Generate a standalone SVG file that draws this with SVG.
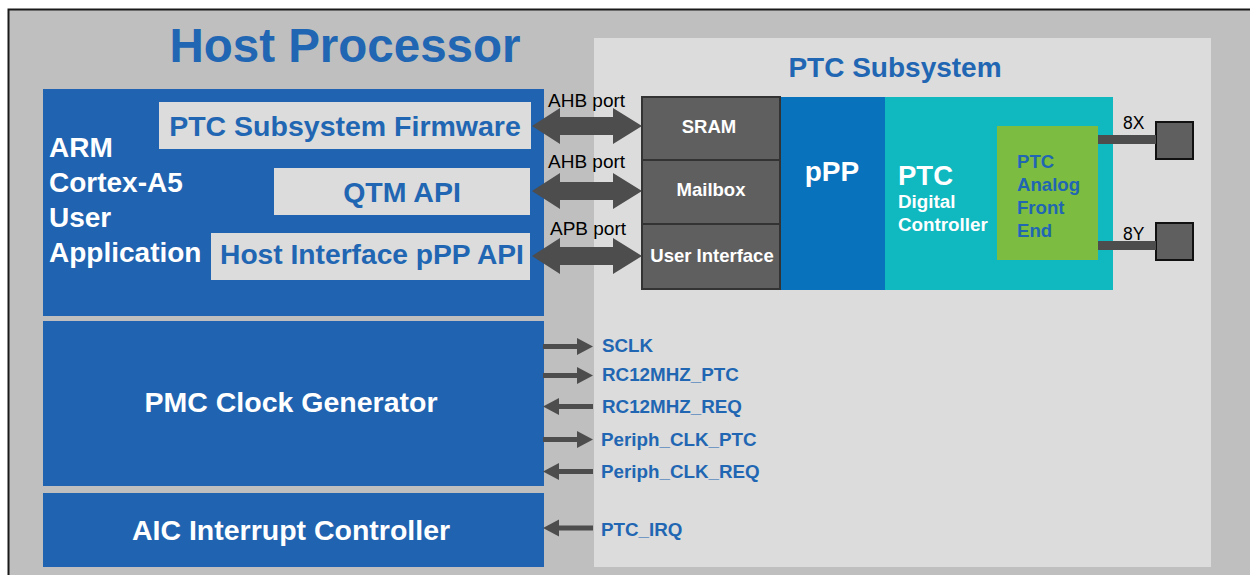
<svg xmlns="http://www.w3.org/2000/svg" width="1250" height="575" viewBox="0 0 1250 575">
<style>
text{font-family:"Liberation Sans",Arial,sans-serif;font-weight:bold}
.blue{fill:#2063b0}
.bt{fill:#2166b3}
.wt{fill:#ffffff}
.lb{fill:#dcdcdc}
.gb{fill:#5f5f5f;stroke:#333333;stroke-width:2}
.arr{fill:#4d4d4d}
.reg{font-weight:normal;fill:#000}
</style>
<rect x="0" y="0" width="1250" height="575" fill="#ffffff"/>
<rect id="host" x="8.5" y="9.5" width="1260" height="590" fill="#bfbfbf" stroke="#1a1a1a" stroke-width="2"/>
<text x="345" y="62" font-size="47.5" text-anchor="middle" class="bt">Host Processor</text>
<g id="ptc-subsystem">
<rect x="594" y="38" width="617" height="529" class="lb"/>
<text x="895" y="77" font-size="28" text-anchor="middle" class="bt">PTC Subsystem</text>
</g>
<g id="arm">
<rect x="43" y="89" width="501" height="227" class="blue"/>
<text font-size="28" class="wt"><tspan x="49" y="157">ARM</tspan><tspan x="49" y="192">Cortex-A5</tspan><tspan x="49" y="227">User</tspan><tspan x="49" y="262">Application</tspan></text>
</g>
<g id="fw">
<rect x="159" y="102" width="372" height="47" class="lb"/>
<text x="345" y="136" font-size="28.5" text-anchor="middle" class="bt">PTC Subsystem Firmware</text>
</g>
<g id="qtm">
<rect x="274" y="168" width="256" height="47" class="lb"/>
<text x="402" y="202" font-size="28.5" text-anchor="middle" class="bt">QTM API</text>
</g>
<g id="hif">
<rect x="211" y="233" width="319" height="47" class="lb"/>
<text x="372" y="264" font-size="28.2" text-anchor="middle" class="bt">Host Interface pPP API</text>
</g>
<g id="pmc">
<rect x="43" y="321" width="501" height="165" class="blue"/>
<text x="291" y="412" font-size="28.5" text-anchor="middle" class="wt">PMC Clock Generator</text>
</g>
<g id="aic">
<rect x="43" y="493" width="501" height="74" class="blue"/>
<text x="291" y="540" font-size="28.5" text-anchor="middle" class="wt">AIC Interrupt Controller</text>
</g>
<g id="ppp">
<rect x="780" y="97" width="105" height="193" fill="#0872bc"/>
<text x="832" y="181" font-size="28" text-anchor="middle" class="wt">pPP</text>
</g>
<g id="dig">
<rect x="885" y="97" width="228" height="193" fill="#10b8c0"/>
<text x="898" y="185" font-size="27.5" class="wt">PTC</text>
<text font-size="18.8" class="wt"><tspan x="898" y="208">Digital</tspan><tspan x="898" y="231">Controller</tspan></text>
</g>
<g id="afe">
<rect x="997" y="126" width="101" height="134" fill="#7cbd41"/>
<text font-size="18.6" class="bt"><tspan x="1017" y="168">PTC</tspan><tspan x="1017" y="191">Analog</tspan><tspan x="1017" y="214">Front</tspan><tspan x="1017" y="237">End</tspan></text>
</g>
<g id="sram">
<rect x="642" y="97" width="138" height="63" class="gb"/>
<text x="709" y="133" font-size="18.5" text-anchor="middle" class="wt">SRAM</text>
</g>
<g id="mailbox">
<rect x="642" y="160" width="138" height="64" class="gb"/>
<text x="711" y="196" font-size="18.5" text-anchor="middle" class="wt">Mailbox</text>
</g>
<g id="ui">
<rect x="642" y="224" width="138" height="65" class="gb"/>
<text x="712" y="262" font-size="18.5" text-anchor="middle" class="wt">User Interface</text>
</g>
<g id="pad8x">
<rect x="1156" y="122" width="37" height="37" fill="#5f5f5f" stroke="#111" stroke-width="2"/>
<text x="1123" y="129" font-size="17.5" class="reg">8X</text>
</g>
<g id="pad8y">
<rect x="1156" y="223" width="37" height="37" fill="#5f5f5f" stroke="#111" stroke-width="2"/>
<text x="1123" y="240" font-size="17.5" class="reg">8Y</text>
</g>
<g id="connectors">
<rect x="1098" y="135" width="58" height="9" class="arr"/>
<rect x="1098" y="241" width="58" height="9" class="arr"/>
<path class="arr" d="M532,126 L560,108 L560,117 L613,117 L613,108 L642,126 L613,144 L613,135 L560,135 L560,144 Z"/>
<path class="arr" d="M532,191 L560,173 L560,182 L613,182 L613,173 L642,191 L613,209 L613,200 L560,200 L560,209 Z"/>
<path class="arr" d="M532,256 L560,238 L560,247 L613,247 L613,238 L642,256 L613,274 L613,265 L560,265 L560,274 Z"/>
<text font-size="19" class="reg"><tspan x="548" y="107">AHB port</tspan><tspan x="548" y="168">AHB port</tspan><tspan x="550" y="235">APB port</tspan></text>
<path class="arr" d="M543,344 h34 v-6 l16,8.5 l-16,8.5 v-6 h-34 z"/>
<path class="arr" d="M543,373 h34 v-6 l16,8.5 l-16,8.5 v-6 h-34 z"/>
<path class="arr" d="M593,404 h-34 v-6 l-16,8.5 l16,8.5 v-6 h34 z"/>
<path class="arr" d="M543,437 h34 v-6 l16,8.5 l-16,8.5 v-6 h-34 z"/>
<path class="arr" d="M593,469 h-34 v-6 l-16,8.5 l16,8.5 v-6 h34 z"/>
<path class="arr" d="M593,525.5 h-34 v-6 l-16,8.5 l16,8.5 v-6 h34 z"/>
<text font-size="18.8" class="bt"><tspan x="602" y="352">SCLK</tspan><tspan x="602" y="381">RC12MHZ_PTC</tspan><tspan x="602" y="413">RC12MHZ_REQ</tspan><tspan x="601" y="446">Periph_CLK_PTC</tspan><tspan x="601" y="478">Periph_CLK_REQ</tspan><tspan x="601" y="536">PTC_IRQ</tspan></text>
</g>
</svg>
